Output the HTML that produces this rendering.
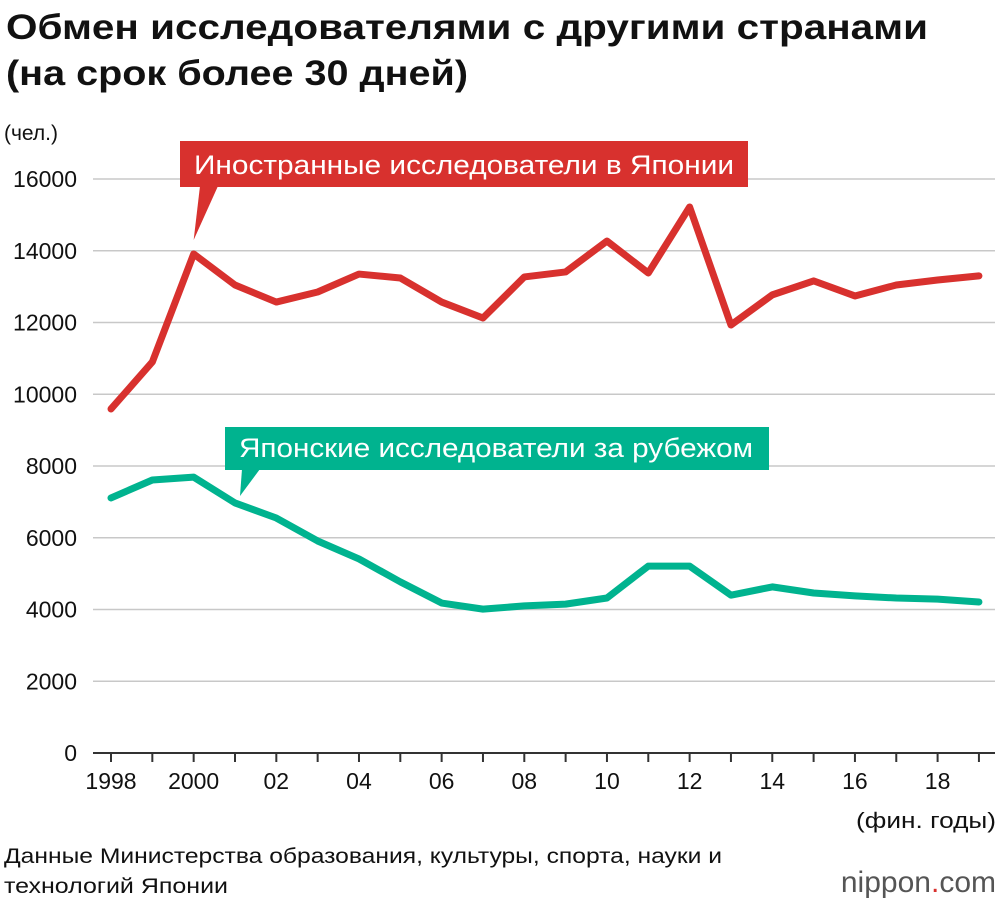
<!DOCTYPE html>
<html><head><meta charset="utf-8">
<style>
body{margin:0;background:#fff;font-family:"Liberation Sans","DejaVu Sans",sans-serif;}
#wrap{position:relative;width:1000px;height:902px;overflow:hidden;}
</style></head>
<body>
<div id="wrap">
<svg id="chart" width="1000" height="902" font-family="Liberation Sans, DejaVu Sans, sans-serif">
<text x="6" y="39" font-size="35" font-weight="bold" fill="#111" textLength="922" lengthAdjust="spacingAndGlyphs">Обмен исследователями с другими странами</text>
<text x="6" y="85" font-size="35" font-weight="bold" fill="#111" textLength="462" lengthAdjust="spacingAndGlyphs">(на срок более 30 дней)</text>
<text x="4" y="140" font-size="21" fill="#111">(чел.)</text>
<g id="grid"></g><g id="yt"></g><g id="xt"></g><g id="series"></g>
<text x="996" y="828" font-size="22" fill="#111" text-anchor="end" textLength="140" lengthAdjust="spacingAndGlyphs">(фин. годы)</text>
<text x="4" y="863" font-size="21" fill="#111" textLength="718" lengthAdjust="spacingAndGlyphs">Данные Министерства образования, культуры, спорта, науки и</text>
<text x="4" y="893" font-size="21" fill="#111" textLength="224" lengthAdjust="spacingAndGlyphs">технологий Японии</text>
<text x="996" y="892" font-size="30" fill="#555" text-anchor="end">nippon<tspan fill="#d8312e">.</tspan>com</text>
</svg>
</div>
<script>
const years=[1998,1999,2000,2001,2002,2003,2004,2005,2006,2007,2008,2009,2010,2011,2012,2013,2014,2015,2016,2017,2018,2019];
const foreignInJapan=[9590,10900,13910,13045,12570,12850,13350,13240,12570,12125,13270,13410,14270,13380,15220,11930,12770,13160,12740,13045,13185,13300];
const japaneseAbroad=[7110,7610,7690,6970,6550,5910,5410,4770,4180,4010,4100,4150,4320,5210,5210,4400,4630,4460,4380,4320,4290,4210];
const yTicks=[0,2000,4000,6000,8000,10000,12000,14000,16000];
const xLabels=["1998","","2000","","02","","04","","06","","08","","10","","12","","14","","16","","18",""];
const NS="http://www.w3.org/2000/svg";
const x=v=>111+(v-1998)*41.33;
const y=v=>753-v*0.035875;
function mk(t,a,p){const e=document.createElementNS(NS,t);for(const k in a)e.setAttribute(k,a[k]);p.appendChild(e);return e;}
const grid=document.getElementById('grid'),yt=document.getElementById('yt'),xt=document.getElementById('xt'),se=document.getElementById('series');
yTicks.forEach(v=>{
 const l=mk('line',{x1:93,x2:995,y1:y(v),y2:y(v),stroke:v===0?'#333':'#c8c8c8','stroke-width':v===0?2:1.5},grid);
 
 
 const t=mk('text',{x:77,y:y(v)+8,'font-size':23,'text-anchor':'end',fill:'#111'},yt);t.textContent=v;
 
 
});
years.forEach((yr,i)=>{
 const l=mk('line',{x1:x(yr),x2:x(yr),y1:753,y2:762,stroke:'#333','stroke-width':2},xt);
 
 
 if(xLabels[i]){const t=mk('text',{x:x(yr),y:789,'font-size':23,'text-anchor':'middle',fill:'#111'},xt);t.textContent=xLabels[i];
 
 }
});
function line(data,col,name){
 const p=mk('polyline',{points:data.map((v,i)=>x(years[i])+','+y(v)).join(' '),fill:'none',stroke:col,'stroke-width':7,'stroke-linejoin':'round','stroke-linecap':'round'},se);
 
 
}
line(foreignInJapan,'#d8312e','line-foreign-researchers');
line(japaneseAbroad,'#00b38f','line-japanese-researchers');
function label(x0,y0,w,h,px,py,tx,col,txt,tw,name){
 const g=mk('g',{},se);
 
 
 mk('rect',{x:x0,y:y0,width:w,height:h,fill:col},g);
 mk('polygon',{points:`${tx},${y0+h-1} ${tx+18},${y0+h-1} ${px},${py}`,fill:col},g);
 const t=mk('text',{x:x0+14,y:y0+h-13,'font-size':27,fill:'#fff',textLength:tw,lengthAdjust:'spacingAndGlyphs'},g);t.textContent=txt;
}
label(180,141,568,46,x(2000),y(foreignInJapan[2])-14,200,'#d8312e','Иностранные исследователи в Японии',540,'legend-foreign');
label(225,427,544,43,240,496,242,'#00b38f','Японские исследователи за рубежом',514,'legend-japanese');
</script>
</body></html>
